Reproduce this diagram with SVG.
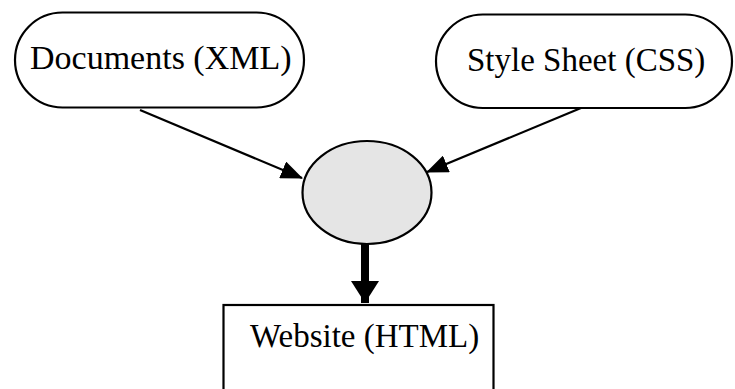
<svg xmlns="http://www.w3.org/2000/svg" width="735" height="389" viewBox="0 0 735 389">
  <defs>
    <style>
      .node { fill: #ffffff; stroke: #000000; stroke-width: 2.2; }
      .hub { fill: #e5e5e5; stroke: #000000; stroke-width: 2.2; }
      .label { font-family: "Liberation Serif", "Times New Roman", serif; font-size: 33px; fill: #000000; }
      .edge { fill: none; stroke: #000000; stroke-width: 2.2; }
      .thick { fill: none; stroke: #000000; stroke-width: 8; }
    </style>
    <marker id="arrow" markerUnits="userSpaceOnUse" markerWidth="22" markerHeight="18" refX="21" refY="9" orient="auto">
      <path d="M0,0 L22,9 L0,18 Z" fill="#000000"/>
    </marker>
    <marker id="arrow-big" markerUnits="userSpaceOnUse" markerWidth="28" markerHeight="28" refX="22" refY="14" orient="auto">
      <path d="M0,0 L22,14 L0,28 Z" fill="#000000"/>
    </marker>
  </defs>

  <rect width="735" height="389" fill="#ffffff"/>

  <g id="connectors">
    <path class="edge" d="M140,110 L302,178" marker-end="url(#arrow)"/>
    <path class="edge" d="M581,108 L427,172" marker-end="url(#arrow)"/>
    <path class="thick" d="M365,240 L365,303" marker-end="url(#arrow-big)"/>
  </g>

  <g id="documents">
    <rect class="node" x="15" y="12.5" width="289" height="95" rx="47.5" ry="47.5"/>
    <text class="label" x="30" y="69" style="font-size:34px">Documents (XML)</text>
  </g>

  <g id="stylesheet">
    <rect class="node" x="436" y="14.5" width="296" height="93.5" rx="46.75" ry="46.75"/>
    <text class="label" x="467" y="71">Style Sheet (CSS)</text>
  </g>

  <g id="processor">
    <ellipse class="hub" cx="367" cy="192.5" rx="64.5" ry="51.5"/>
  </g>

  <g id="website">
    <rect class="node" x="223.5" y="305" width="270" height="100"/>
    <text class="label" x="250" y="347">Website (HTML)</text>
  </g>
</svg>
